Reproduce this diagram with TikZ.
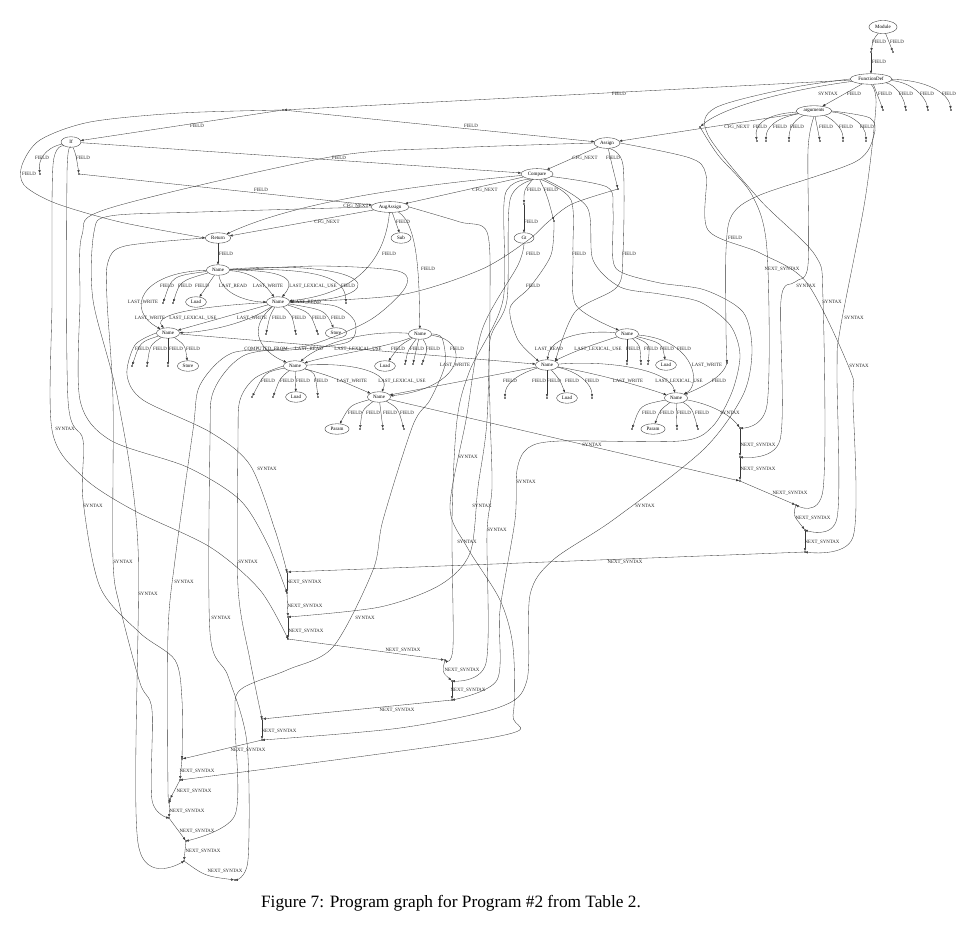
\documentclass[tikz,border=0pt]{standalone}
\usepackage{fontspec}
\setmainfont{Liberation Serif}
\usetikzlibrary{shapes.geometric,arrows.meta}
\newcounter{lbc}
\newcommand\lab[3]{\stepcounter{lbc}\node[lb] (lab\arabic{lbc}) at (#1,#2) {#3};}
\begin{document}
\begin{tikzpicture}[x=1pt,y=-1pt,
  ell/.style={ellipse, draw=black!80, line width=0.35pt, inner xsep=2.2pt, inner ysep=1.6pt, minimum width=20pt, minimum height=10.5pt, font=\fontsize{5}{5}\selectfont},
  pt/.style={circle, fill=black, inner sep=0pt, minimum size=1.8pt},
  e/.style={draw=black!78, line width=0.33pt, -{Triangle[length=2.8pt,width=2.2pt]}},
  lb/.style={font=\fontsize{4.9}{5}\selectfont, inner sep=0pt, text=black!85},
  captiontext/.style={font=\fontsize{17.3}{20}\selectfont}]
\useasboundingbox (0,0) rectangle (976,937);
\fill[white] (0,0) rectangle (976,937);

% ---------------- AST nodes ----------------
\node[ell, minimum height=13pt, minimum width=28pt] (Module) at (883,27) {Module};
\node[ell] (FunctionDef) at (871,79) {FunctionDef};
\node[ell] (arguments) at (814,111) {arguments};
\node[ell] (Assign) at (607,143) {Assign};
\node[ell] (Compare) at (537,174) {Compare};
\node[ell] (AugAssign) at (390,207) {AugAssign};
\node[ell] (Sub) at (401,238) {Sub};
\node[ell] (Gt) at (524,238) {Gt};
\node[ell] (If) at (71,142) {If};
\node[ell] (Return) at (218,238) {Return};
\node[ell] (NameA) at (218,270) {Name};
\node[ell] (Load1) at (196,302) {Load};
\node[ell] (NameB) at (278,302) {Name};
\node[ell] (Store1) at (336,333) {Store};
\node[ell] (NameC) at (168,333) {Name};
\node[ell] (Store2) at (188,366) {Store};
\node[ell] (NameD) at (295,366) {Name};
\node[ell] (Load2) at (296,397) {Load};
\node[ell] (NameE) at (379,397) {Name};
\node[ell] (Param1) at (337,429) {Param};
\node[ell] (NameF) at (420,334) {Name};
\node[ell] (Load3) at (385,366) {Load};
\node[ell] (NameG) at (627,334) {Name};
\node[ell] (Load4) at (666,365) {Load};
\node[ell] (NameH) at (547,365) {Name};
\node[ell] (Load5) at (567,398) {Load};
\node[ell] (NameI) at (676,398) {Name};
\node[ell] (Param2) at (653,429) {Param};

% ---------------- point nodes ----------------
\foreach \n/\x/\y in {pm1/871/52, pm2/893/52, pf1/883/110, pf2/906/110, pf3/928/110, pf4/951/110,
  pbody/283/110, pfs/700/127, pa1/757/141, pa2/766/141, pa3/789/141, pa4/820/141, pa5/843/141, pa6/866/141,
  pif1/40/174, pif2/79/174, pas1/618/189, pcmp1/524/204, pcmp2/554/221, pta/727/363,
  pn1/163/303, pn2/173/303, pn3/346/303, pn4/266/334, pn5/296/334, pn6/318/334,
  pn7/132/366, pn8/147/366, pn9/168/366, pn10/252/397, pn11/273/397, pn12/318/397,
  pn13/360/429, pn14/383/429, pn15/404/429, pn16/405/364, pn17/413/364, pn18/422/364,
  pn19/627/364, pn20/641/364, pn21/648/364, pn22/505/398, pn23/547/398, pn24/592/398,
  pn25/632/429, pn26/677/429, pn27/698/429,
  r1/740/428, r2/740/457, r3/740/481, r4/796/505, r5/805/530, r6/805/552,
  c1/287/572, c2/287/593, c3/288/617, c4/288/639, c5/445/660, c6/452/681, c7/452/700,
  c8/262/719, c9/262/740, c10/182/759, c11/180/780, c12/170/799, c13/169/818,
  c14/186/841, c15/184/861, c16/235/880}
  \node[pt] (\n) at (\x,\y) {};

% ---------------- top ----------------
\draw[e] (Module) .. controls (873,40) .. (pm1); \lab{879}{42}{FIELD}
\draw[e] (Module) .. controls (889,42) .. (pm2); \lab{897}{42}{FIELD}
\draw[e] (pm1) -- (FunctionDef); \lab{879}{62}{FIELD}
\draw[e] (FunctionDef) .. controls (878,95) .. (pf1); \lab{885}{94}{FIELD}
\draw[e] (FunctionDef) .. controls (895,85) and (903,95) .. (pf2); \lab{906}{94}{FIELD}
\draw[e] (FunctionDef) .. controls (910,82) and (925,95) .. (pf3); \lab{927}{94}{FIELD}
\draw[e] (FunctionDef) .. controls (925,80) and (948,92) .. (pf4); \lab{949}{94}{FIELD}
\draw[e] (FunctionDef) -- (arguments); \lab{854}{94}{FIELD}
\draw[e] (FunctionDef) -- (pbody); \lab{619}{94}{FIELD}
\draw[e] (FunctionDef) .. controls (800,88) and (725,105) .. (pfs); \lab{828}{94}{SYNTAX}

\draw[e] (arguments) -- (Assign); \lab{737}{127}{CFG\_NEXT}
\draw[e] (arguments) .. controls (765,114) and (754,125) .. (pa1); \lab{760}{127}{FIELD}
\draw[e] (arguments) .. controls (775,118) and (766,128) .. (pa2); \lab{780}{127}{FIELD}
\draw[e] (arguments) .. controls (793,120) and (789,130) .. (pa3); \lab{797}{127}{FIELD}
\draw[e] (arguments) -- (pa4); \lab{826}{127}{FIELD}
\draw[e] (arguments) .. controls (835,120) and (843,130) .. (pa5); \lab{846}{127}{FIELD}
\draw[e] (arguments) .. controls (850,113) and (866,125) .. (pa6); \lab{867}{127}{FIELD}

\draw[e] (pbody) -- (If); \lab{197}{126}{FIELD}
\draw[e] (pbody) -- (Assign); \lab{471}{126}{FIELD}
\draw[e] plot[smooth] coordinates {(pbody) (180,113) (90,122) (40,140) (22,165) (24,185) (55,203) (120,222) (Return.west)}; \lab{29}{174}{FIELD}

\draw[e] (If) .. controls (45,148) and (38,160) .. (pif1); \lab{42}{158}{FIELD}
\draw[e] (If) .. controls (76,155) .. (pif2); \lab{83}{158}{FIELD}
\draw[e] (pif2) -- (AugAssign); \lab{261}{190}{FIELD}
\draw[e] (If) -- (Compare); \lab{339}{158}{FIELD}
\draw[e] (Assign) -- (Compare); \lab{585}{158}{CFG\_NEXT}
\draw[e] (Assign) .. controls (612,165) .. (pas1); \lab{613}{158}{FIELD}
\draw[e] (Compare) -- (AugAssign); \lab{485}{190}{CFG\_NEXT}
\draw[e] (Compare) .. controls (420,185) and (300,200) .. (Return); \lab{356}{206}{CFG\_NEXT}
\draw[e] (AugAssign) -- (Return); \lab{327}{222}{CFG\_NEXT}
\draw[e] (AugAssign) .. controls (396,222) .. (Sub); \lab{403}{222}{FIELD}
\draw[e] (Compare) .. controls (524,190) .. (pcmp1); \lab{534}{190}{FIELD}
\draw[e] (pcmp1) -- (Gt); \lab{531}{222}{FIELD}
\draw[e] (Compare) .. controls (547,195) .. (pcmp2); \lab{551}{190}{FIELD}
\draw[e] (Return) -- (NameA); \lab{226}{254}{FIELD}

% FIELD edges to Name nodes
\draw[e] (AugAssign) .. controls (384,270) and (345,295) .. (NameB); \lab{389}{254}{FIELD}
\draw[e] (AugAssign) .. controls (420,225) and (419,290) .. (NameF); \lab{428}{269}{FIELD}
\draw[e] plot[smooth] coordinates {(pas1) (572,204) (548,222) (527,241) (480,270) (400,295) (NameB.east)}; \lab{533}{254}{FIELD}
\draw[e] plot[smooth] coordinates {(pcmp2) (551,255) (530,287) (510,308) (518,340) (NameH.north west)}; \lab{533}{286}{FIELD}
\draw[e] plot[smooth] coordinates {(Compare.-55) (571,200) (573,254) (576,305) (NameG.north west)}; \lab{579}{254}{FIELD}
\draw[e] plot[smooth] coordinates {(Assign.-70) (623,165) (623,253) (617,287) (575,312) (NameH.north east)}; \lab{629}{254}{FIELD}
\draw[e] plot[smooth] coordinates {(arguments.east) (870,118) (874,135) (855,162) (760,195) (732,215) (726,250) (726,330) (pta)}; \lab{735}{238}{FIELD}

% ---------------- Name A ----------------
\draw[e] (NameA) .. controls (172,276) .. (pn1); \lab{167}{286}{FIELD}
\draw[e] (NameA) .. controls (180,281) .. (pn2); \lab{185}{286}{FIELD}
\draw[e] (NameA) -- (Load1); \lab{202}{286}{FIELD}
\draw[e] (NameA) .. controls (140,272) and (125,310) .. (NameC); \lab{143}{302}{LAST\_WRITE}
\draw[e] (NameA) .. controls (222,295) and (250,302) .. (NameB); \lab{233}{286}{LAST\_READ}
\draw[e] (NameA) .. controls (255,272) and (265,285) .. (NameB); \lab{268}{286}{LAST\_WRITE}
\draw[e] (NameA) .. controls (300,270) and (292,285) .. (NameB); \lab{313}{286}{LAST\_LEXICAL\_USE}
\draw[e] (NameA) .. controls (325,267) and (345,280) .. (pn3); \lab{348}{286}{FIELD}
\draw[e] (NameA) .. controls (380,258) and (395,300) .. (NameB); \lab{307}{302}{LAST\_READ}

% ---------------- Name B ----------------
\draw[e] (NameB) .. controls (220,305) and (150,312) .. (NameC); \lab{150}{318}{LAST\_WRITE}
\draw[e] (NameB) -- (NameC); \lab{193}{318}{LAST\_LEXICAL\_USE}
\draw[e] (NameB) .. controls (250,322) and (210,332) .. (NameC); \lab{252}{318}{LAST\_WRITE}
\draw[e] (NameB) .. controls (270,315) .. (pn4); \lab{279}{318}{FIELD}
\draw[e] (NameB) .. controls (292,315) .. (pn5); \lab{299}{318}{FIELD}
\draw[e] (NameB) .. controls (310,312) .. (pn6); \lab{319}{318}{FIELD}
\draw[e] (NameB) .. controls (325,310) .. (Store1); \lab{338}{318}{FIELD}
\draw[e] (NameB) .. controls (245,330) and (262,352) .. (NameD); \lab{266}{349}{COMPUTED\_FROM}

% ---------------- Name C ----------------
\draw[e] (NameC) .. controls (140,342) .. (pn7); \lab{142}{349}{FIELD}
\draw[e] (NameC) .. controls (150,345) .. (pn8); \lab{160}{349}{FIELD}
\draw[e] (NameC) -- (pn9); \lab{176}{349}{FIELD}
\draw[e] (NameC) .. controls (185,345) .. (Store2); \lab{193}{349}{FIELD}
\draw[e] (NameC) -- (NameH); \lab{457}{349}{FIELD}

% ---------------- Name D / E / F ----------------
\draw[e] (NameF) .. controls (360,330) and (320,345) .. (NameD); \lab{309}{349}{LAST\_READ}
\draw[e] (NameF) .. controls (385,348) and (330,355) .. (NameD); \lab{358}{349}{LAST\_LEXICAL\_USE}
\draw[e] (NameD) .. controls (265,372) .. (pn10); \lab{268}{381}{FIELD}
\draw[e] (NameD) .. controls (280,378) .. (pn11); \lab{287}{381}{FIELD}
\draw[e] (NameD) -- (Load2); \lab{303}{381}{FIELD}
\draw[e] (NameD) .. controls (315,372) .. (pn12); \lab{321}{381}{FIELD}
\draw[e] (NameD) .. controls (330,376) .. (NameE); \lab{352}{381}{LAST\_WRITE}
\draw[e] (NameD) .. controls (350,362) and (392,372) .. (NameE); \lab{402}{381}{LAST\_LEXICAL\_USE}
\draw[e] (NameE) .. controls (350,405) .. (Param1); \lab{355}{413}{FIELD}
\draw[e] (NameE) .. controls (362,410) .. (pn13); \lab{373}{413}{FIELD}
\draw[e] (NameE) -- (pn14); \lab{390}{413}{FIELD}
\draw[e] (NameE) .. controls (398,408) .. (pn15); \lab{407}{413}{FIELD}
\draw[e] (NameF) .. controls (400,345) .. (Load3); \lab{398}{349}{FIELD}
\draw[e] (NameF) .. controls (408,350) .. (pn16); \lab{417}{349}{FIELD}
\draw[e] (NameF) .. controls (416,350) .. (pn17); \lab{433}{349}{FIELD}
\draw[e] (NameF) .. controls (428,348) .. (pn18);
\draw[e] (NameF) .. controls (472,340) and (465,388) .. (NameE); \lab{455}{365}{LAST\_WRITE}

% ---------------- Name G / H / I ----------------
\draw[e] (NameG) .. controls (590,330) and (550,335) .. (NameH); \lab{549}{349}{LAST\_READ}
\draw[e] (NameG) .. controls (600,342) and (572,352) .. (NameH); \lab{598}{349}{LAST\_LEXICAL\_USE}
\draw[e] (NameG) -- (pn19); \lab{633}{349}{FIELD}
\draw[e] (NameG) .. controls (640,345) .. (pn20); \lab{651}{349}{FIELD}
\draw[e] (NameG) .. controls (650,344) .. (pn21); \lab{667}{349}{FIELD}
\draw[e] (NameG) .. controls (662,343) .. (Load4); \lab{684}{349}{FIELD}
\draw[e] (NameG) .. controls (695,340) and (702,385) .. (NameI); \lab{707}{365}{LAST\_WRITE}
\draw[e] (pta) .. controls (722,378) and (700,388) .. (NameI); \lab{719}{381}{FIELD}
\draw[e] (NameH) .. controls (515,375) and (505,385) .. (pn22); \lab{539}{381}{FIELD}
\draw[e] (NameH) -- (pn23); \lab{554}{381}{FIELD}
\draw[e] (NameH) .. controls (560,380) .. (Load5); \lab{572}{381}{FIELD}
\draw[e] (NameH) .. controls (580,372) and (592,385) .. (pn24); \lab{592}{381}{FIELD}
\draw[e] (NameH) -- (NameE); \lab{510}{381}{FIELD}
\draw[e] (NameH) .. controls (600,374) and (640,386) .. (NameI); \lab{628}{381}{LAST\_WRITE}
\draw[e] (NameH) .. controls (610,360) and (670,370) .. (NameI); \lab{679}{381}{LAST\_LEXICAL\_USE}
\draw[e] (NameI) .. controls (640,405) .. (pn25); \lab{649}{413}{FIELD}
\draw[e] (NameI) .. controls (660,410) .. (Param2); \lab{667}{413}{FIELD}
\draw[e] (NameI) -- (pn26); \lab{684}{413}{FIELD}
\draw[e] (NameI) .. controls (692,408) .. (pn27); \lab{702}{413}{FIELD}

% ---------------- SYNTAX edges, right ----------------
\draw[e] plot[smooth] coordinates {(pfs) (718,155) (752,195) (767,250) (767,405) (r1)}; \lab{782}{269}{NEXT\_SYNTAX}
\draw[e] (NameI) .. controls (705,403) and (728,412) .. (r1); \lab{730}{413}{SYNTAX}
\draw[e] plot[smooth] coordinates {(arguments.south) (808,150) (808,265) (795,282) (781,300) (780,440) (r2)}; \lab{806}{286}{SYNTAX}
\draw[e] (NameE) -- (r3); \lab{592}{445}{SYNTAX}
\draw[e] plot[smooth] coordinates {(FunctionDef.west) (790,88) (715,108) (708,135) (760,200) (815,255) (823,300) (823,490) (r4)}; \lab{832}{302}{SYNTAX}
\draw[e] plot[smooth] coordinates {(FunctionDef.south) (876,105) (865,200) (840,330) (837,370) (837,518) (r5)}; \lab{854}{318}{SYNTAX}
\draw[e] plot[smooth] coordinates {(Assign.east) (690,158) (706,175) (708,230) (760,253) (807,283) (850,370) (853,400) (853,537) (r6)}; \lab{859}{366}{SYNTAX}

% ---------------- SYNTAX edges, left / centre ----------------
\draw[e] plot[smooth] coordinates {(If.south west) (53,165) (52,300) (52,430) (83,477) (133,510) (210,547) (260,590) (c4)}; \lab{65}{429}{SYNTAX}
\draw[e] plot[smooth] coordinates {(If.south) (67,175) (68,400) (83,440) (83,500) (100,587) (140,633) (175,660) (182,700) (c10)}; \lab{93}{506}{SYNTAX}
\draw[e] plot[smooth] coordinates {(Assign.west) (450,148) (330,157) (110,208) (82,235) (80,300) (80,400) (110,440) (187,467) (240,500) (268,545) (c2)};
\draw[e] plot[smooth] coordinates {(Return.west) (125,246) (108,262) (107,300) (113,400) (113,560) (120,607) (140,683) (152,710) (152,800) (c13)}; \lab{123}{562}{SYNTAX}
\draw[e] plot[smooth] coordinates {(AugAssign.west) (200,212) (110,216) (94,232) (93,300) (118,400) (138,547) (138,843) (c15)}; \lab{148}{594}{SYNTAX}
\draw[e] plot[smooth] coordinates {(NameC.west) (135,345) (127,375) (143,400) (210,432) (250,465) (275,530) (c1)}; \lab{267}{469}{SYNTAX}
\draw[e] plot[smooth] coordinates {(NameB.east) (335,306) (355,322) (348,342) (290,350) (232,353) (200,385) (193,430) (175,560) (168,633) (168,790) (c12)}; \lab{184}{582}{SYNTAX}
\draw[e] plot[smooth] coordinates {(NameA.east) (320,266) (398,271) (405,288) (370,320) (310,345) (245,355) (214,390) (210,440) (210,633) (228,676) (247,743) (248,860) (c16)}; \lab{221}{618}{SYNTAX}
\draw[e] plot[smooth] coordinates {(NameD.west) (255,378) (240,400) (238,440) (238,587) (250,660) (c8)}; \lab{248}{562}{SYNTAX}
\draw[e] plot[smooth] coordinates {(NameF.east) (442,338) (445,365) (430,400) (413,425) (383,520) (373,570) (333,647) (287,670) (240,690) (235,720) (235,815) (c14)}; \lab{365}{618}{SYNTAX}
\draw[e] plot[smooth] coordinates {(AugAssign.east) (460,222) (487,232) (490,300) (487,420) (478,487) (470,553) (440,585) (380,607) (c3)}; \lab{482}{506}{SYNTAX}
\draw[e] plot[smooth] coordinates {(Compare.225) (505,195) (503,300) (470,370) (457,420) (452,520) (453,647) (c5)}; \lab{468}{457}{SYNTAX}
\draw[e] plot[smooth] coordinates {(Compare.240) (510,200) (507,300) (490,340) (490,410) (492,487) (487,533) (486,663) (c6)}; \lab{497}{530}{SYNTAX}
\draw[e] plot[smooth] coordinates {(Gt.south) (518,265) (482,330) (466,420) (450,507) (467,547) (500,600) (513,647) (513,715) (495,737) (c11)}; \lab{467}{542}{SYNTAX}
\draw[e] plot[smooth] coordinates {(Compare.-35) (587,207) (593,260) (620,287) (660,294) (700,302) (730,325) (740,355) (732,392) (712,427) (680,441) (560,441) (528,448) (517,470) (515,520) (500,610) (497,680) (c7)}; \lab{526}{482}{SYNTAX}
\draw[e] plot[smooth] coordinates {(Compare.-10) (607,187) (613,210) (613,260) (623,273) (660,283) (705,290) (743,312) (752,350) (743,395) (703,450) (613,520) (553,560) (530,595) (527,680) (500,707) (400,728) (c9)}; \lab{645}{506}{SYNTAX}

% ---------------- NEXT_SYNTAX chain ----------------
\draw[e] (r1) -- (r2); \lab{758}{445}{NEXT\_SYNTAX}
\draw[e] (r2) -- (r3); \lab{758}{469}{NEXT\_SYNTAX}
\draw[e] (r3) -- (r4); \lab{790}{493}{NEXT\_SYNTAX}
\draw[e] (r4) .. controls (793,515) .. (r5); \lab{813}{518}{NEXT\_SYNTAX}
\draw[e] (r5) -- (r6); \lab{822}{542}{NEXT\_SYNTAX}
\draw[e] (r6) -- (c1); \lab{625}{562}{NEXT\_SYNTAX}
\draw[e] (c1) -- (c2); \lab{304}{582}{NEXT\_SYNTAX}
\draw[e] (c2) -- (c3); \lab{305}{606}{NEXT\_SYNTAX}
\draw[e] (c3) -- (c4); \lab{306}{631}{NEXT\_SYNTAX}
\draw[e] (c4) -- (c5); \lab{403}{650}{NEXT\_SYNTAX}
\draw[e] (c5) .. controls (442,672) .. (c6); \lab{462}{670}{NEXT\_SYNTAX}
\draw[e] (c6) -- (c7); \lab{468}{690}{NEXT\_SYNTAX}
\draw[e] (c7) -- (c8); \lab{397}{710}{NEXT\_SYNTAX}
\draw[e] (c8) -- (c9); \lab{279}{731}{NEXT\_SYNTAX}
\draw[e] (c9) -- (c10); \lab{248}{750}{NEXT\_SYNTAX}
\draw[e] (c10) -- (c11); \lab{197}{771}{NEXT\_SYNTAX}
\draw[e] (c11) -- (c12); \lab{194}{791}{NEXT\_SYNTAX}
\draw[e] (c12) -- (c13); \lab{187}{811}{NEXT\_SYNTAX}
\draw[e] (c13) -- (c14); \lab{197}{831}{NEXT\_SYNTAX}
\draw[e] (c14) -- (c15); \lab{203}{851}{NEXT\_SYNTAX}
\draw[e] (c15) .. controls (205,876) .. (c16); \lab{225}{871}{NEXT\_SYNTAX}

% ---------------- caption ----------------
\node[captiontext] (caption) at (451,903) {Figure 7: Program graph for Program \#2 from Table 2.};
\end{tikzpicture}
\end{document}
